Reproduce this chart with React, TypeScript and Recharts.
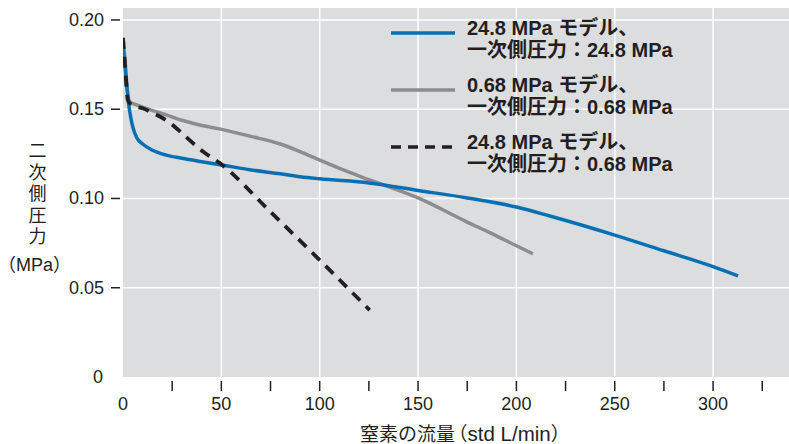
import React from 'react';
import { LineChart, Line, XAxis, YAxis, CartesianGrid, Legend } from 'recharts';

// 24.8 MPa model, primary 24.8 MPa
const blueFlow = [0, 1, 2, 3, 4, 5, 7, 10, 15, 22, 30, 40, 50, 65, 80, 90, 100, 125, 150, 175, 200, 217, 250, 275, 300, 312.7];
const bluePressure = [0.185, 0.175, 0.162, 0.152, 0.145, 0.14, 0.134, 0.1305, 0.127, 0.1243, 0.1225, 0.1206, 0.1188, 0.116, 0.1138, 0.1122, 0.111, 0.1087, 0.1045, 0.1003, 0.0952, 0.0902, 0.0795, 0.0707, 0.0618, 0.0566];

// 0.68 MPa model, primary 0.68 MPa
const greyFlow = [0, 1, 2, 3.6, 7, 13, 22, 30, 39, 49, 65, 80, 90, 100, 112, 125, 150, 175, 187, 200, 208.4];
const greyPressure = [0.19, 0.178, 0.163, 0.154, 0.1524, 0.15, 0.1468, 0.1438, 0.1412, 0.139, 0.1348, 0.1305, 0.1262, 0.1215, 0.116, 0.1105, 0.1003, 0.0868, 0.0806, 0.0735, 0.069];

// 24.8 MPa model, primary 0.68 MPa
const dashFlow = [0, 1, 2.5, 5, 10, 15, 24, 32, 41, 49, 75, 100, 125.4];
const dashPressure = [0.19, 0.175, 0.155, 0.152, 0.1505, 0.148, 0.1423, 0.1345, 0.126, 0.12, 0.0925, 0.0655, 0.0375];

const xTicks = [0, 25, 50, 75, 100, 125, 150, 175, 200, 225, 250, 275, 300, 325];
const yTicks = [0, 0.05, 0.1, 0.15, 0.2];
const xGrid = [50, 100, 150, 200, 250, 300];
const yGrid = [0.05, 0.1, 0.15, 0.2];

const legendItems = [
  { line1: '24.8 MPa モデル、', line2: '一次側圧力：24.8 MPa', color: '#0770b5', dash: undefined },
  { line1: '0.68 MPa モデル、', line2: '一次側圧力：0.68 MPa', color: '#8d8d8d', dash: undefined },
  { line1: '24.8 MPa モデル、', line2: '一次側圧力：0.68 MPa', color: '#231f20', dash: '10 7' },
];

const toPoints = (xs: number[], ys: number[]) => xs.map((x, i) => ({ x, y: ys[i] }));

const TEXT = '#231f20';
const FONT = '"Liberation Sans", Arial, "Noto Sans CJK JP", sans-serif';

const XTick = (props: any) => {
  const { x, y, payload } = props;
  const v = payload.value;
  return (
    <g>
      {v > 0 && <line x1={x} x2={x} y1={y + 4} y2={y + 14} stroke={TEXT} strokeWidth={1.5} />}
      {v % 50 === 0 && (
        <text x={x} y={y + 33} textAnchor="middle" fontSize={18} fontFamily={FONT} fill={TEXT}>
          {v}
        </text>
      )}
    </g>
  );
};

const YTick = (props: any) => {
  const { x, y, payload } = props;
  const v = payload.value;
  return (
    <g>
      {v > 0 && <line x1={x - 12} x2={x - 3} y1={y} y2={y} stroke={TEXT} strokeWidth={1.5} />}
      <text x={v > 0 ? x - 19 : x - 20} y={y + 6} textAnchor="end" fontSize={18} fontFamily={FONT} fill={TEXT}>
        {v === 0 ? '0' : v.toFixed(2)}
      </text>
    </g>
  );
};

const LegendBox = () => (
  <div style={{ fontFamily: FONT, color: TEXT }}>
    {legendItems.map((item, i) => (
      <div key={i} style={{ display: 'flex', height: 57 }}>
        <svg width={64} height={43} style={{ flex: 'none' }}>
          <line x1={0} x2={64} y1={15} y2={15} stroke={item.color} strokeWidth={3.5} strokeDasharray={item.dash} />
        </svg>
        <div style={{ marginLeft: 12, fontSize: 20, fontWeight: 'bold', lineHeight: '21.5px', whiteSpace: 'nowrap' }}>
          <div>{item.line1}</div>
          <div>{item.line2}</div>
        </div>
      </div>
    ))}
  </div>
);

const App: React.FC = () => {
  return (
    <div style={{ position: 'absolute', left: 0, top: 0, width: 789, height: 444, background: '#fff' }}>
      <LineChart width={789} height={444} margin={{ top: 8, right: 0, bottom: 0, left: 0 }}>
        <CartesianGrid
          fill="#dcdddf"
          stroke="#ffffff"
          strokeWidth={1.5}
          horizontalValues={yGrid}
          verticalValues={xGrid}
        />
        <XAxis
          type="number"
          dataKey="x"
          domain={[0, 338.6]}
          ticks={xTicks}
          interval={0}
          allowDataOverflow
          axisLine={false}
          tickLine={false}
          tickSize={0}
          tickMargin={0}
          height={67}
          tick={<XTick />}
        />
        <YAxis
          type="number"
          dataKey="y"
          domain={[0, 0.2067]}
          ticks={yTicks}
          interval={0}
          allowDataOverflow
          axisLine={false}
          tickLine={false}
          tickSize={0}
          tickMargin={0}
          width={123}
          tick={<YTick />}
        />
        <Legend
          layout="vertical"
          align="center"
          verticalAlign="middle"
          content={() => <LegendBox />}
          wrapperStyle={{ position: 'absolute', top: 18, left: 391, width: 320 }}
        />
        <Line data={toPoints(greyFlow, greyPressure)} dataKey="y" type="monotone" stroke="#8d8d8d" strokeWidth={3.5} dot={false} isAnimationActive={false} />
        <Line data={toPoints(blueFlow, bluePressure)} dataKey="y" type="monotone" stroke="#0770b5" strokeWidth={3.5} dot={false} isAnimationActive={false} />
        <Line data={toPoints(dashFlow, dashPressure)} dataKey="y" type="monotone" stroke="#231f20" strokeWidth={3.8} strokeDasharray="11 8" dot={false} isAnimationActive={false} />
      </LineChart>
      <div style={{ position: 'absolute', left: 27.5, top: 141, width: 20, textAlign: 'center', fontFamily: FONT, fontSize: 18, lineHeight: '21.5px', color: TEXT }}>
        {'二次側圧力'.split('').map((c, i) => (
          <div key={i}>{c}</div>
        ))}
      </div>
      <div style={{ position: 'absolute', left: 7, top: 255, fontFamily: FONT, fontSize: 18, lineHeight: '20px', color: TEXT, whiteSpace: 'nowrap', fontFeatureSettings: '"halt"' }}>
        （MPa）
      </div>
      <div style={{ position: 'absolute', left: 360, top: 424, fontFamily: FONT, fontSize: 19, lineHeight: '19px', color: TEXT, whiteSpace: 'nowrap', fontFeatureSettings: '"halt"' }}>
        窒素の流量<span style={{ marginLeft: 3 }}>（</span><span style={{ fontSize: 20.5 }}>std L/min</span>）
      </div>
    </div>
  );
};

export default App;
